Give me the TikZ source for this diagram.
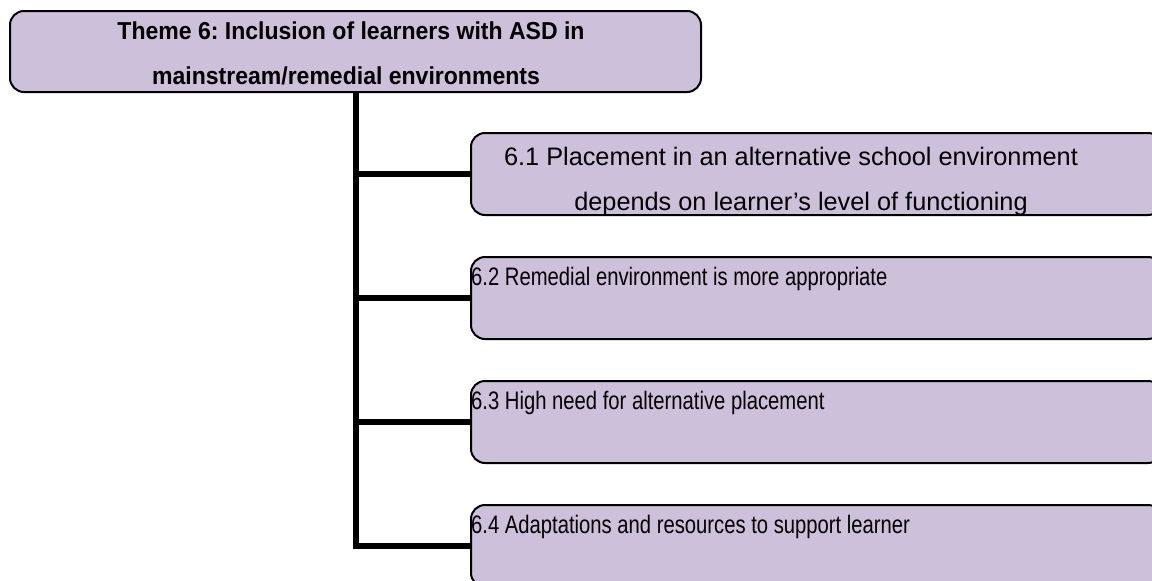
\documentclass[tikz,border=0pt]{standalone}
\usepackage{fontspec}
\setmainfont{Liberation Sans}
\newfontfamily\narrowfont[FakeStretch=0.80]{Liberation Sans}
\newfontfamily\titlefont[FakeStretch=0.94]{Liberation Sans}
\definecolor{themefill}{HTML}{CCC0DA}
\frenchspacing

\begin{document}
\begin{tikzpicture}[x=1pt,y=-1pt]
  \def\boxtop{132}
  \def\gap{124}
  \tikzset{
    themebox/.style={draw=black, line width=2pt, fill=themefill, rounded corners=14pt,
      inner sep=0pt, anchor=north west, minimum width=691pt, minimum height=82pt},
    link/.style={line width=6pt},
    txt/.style={inner sep=0pt, anchor=base, font=\narrowfont\fontsize{25.3}{45}\selectfont},
    titletxt/.style={inner sep=0pt, anchor=base, font=\titlefont\bfseries\fontsize{24.5}{45}\selectfont},
  }
  \def\branch#1#2{
    \node[themebox] (b#1) at (470,{\boxtop+(#1-1)*\gap}) {};
    \draw[link] (theme.south |- b#1.west) -- (b#1.west);
    \node[txt, anchor=base west] (t#1) at (471,{\boxtop+(#1-1)*\gap+29.5}) {#2};
  }
  \clip (0,0) rectangle (1152,581);

  %%% theme
  \node[themebox, minimum height=81pt] (theme) at (9,10) {};
  \node[titletxt] (themeA) at (351,39) {Theme 6: Inclusion of learners with ASD in};
  \node[titletxt] (themeB) at (346,84) {mainstream/remedial environments};

  %%% 6.1
  \node[themebox] (b1) at (470,\boxtop) {};
  \draw[link] (theme.south |- b1.west) -- (b1.west);
  \begin{scope}
    \clip ([yshift=1pt]b1.south west) rectangle (b1.north east);
    \node[txt, font=\fontsize{25.3}{45}\selectfont] (t1a) at (791,165)
      {6.1 Placement in an alternative school environment};
    \node[txt, font=\fontsize{25.3}{45}\selectfont] (t1b) at (801,210)
      {depends on learner’s level of functioning};
  \end{scope}

  %%% 6.2 - 6.4
  \branch{2}{6.2 Remedial environment is more appropriate}
  \branch{3}{6.3 High need for alternative placement}
  \branch{4}{6.4 Adaptations and resources to support learner}
  \draw[link] (theme.south) |- (b4.west);
\end{tikzpicture}
\end{document}
